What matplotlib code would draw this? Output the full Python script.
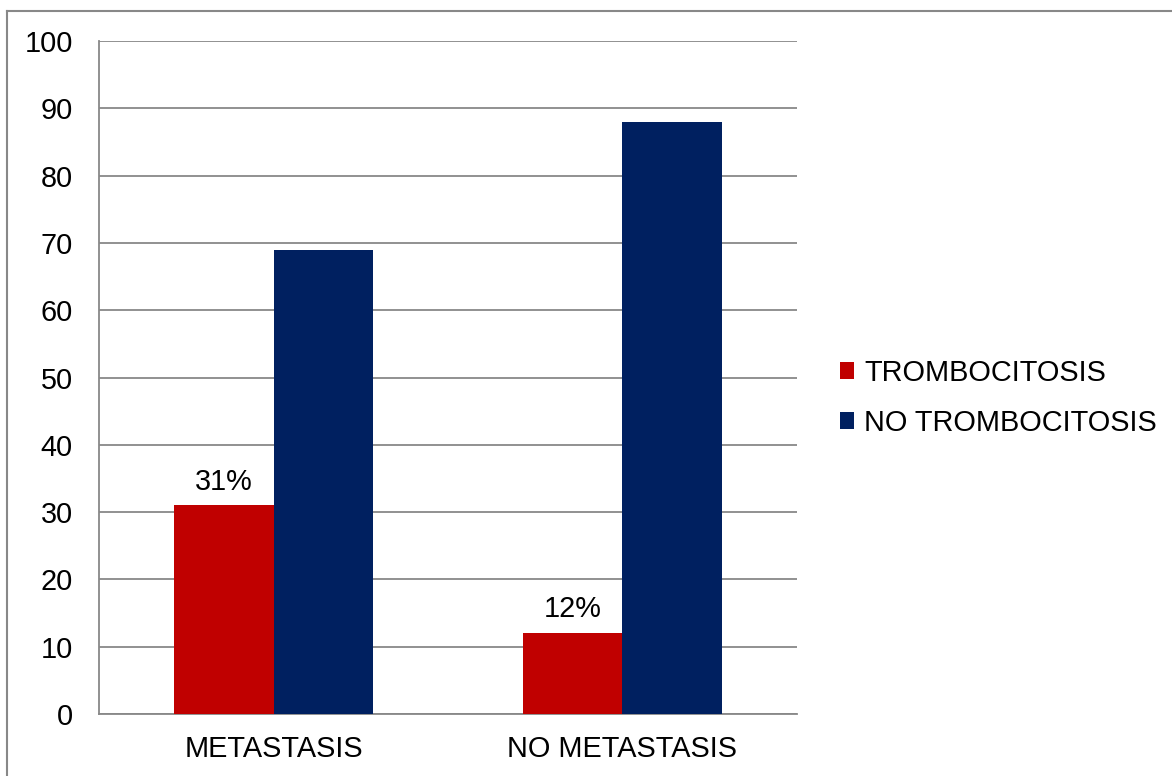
import matplotlib.pyplot as plt
from matplotlib.lines import Line2D
import numpy as np

grupos = ['METASTASIS', 'NO METASTASIS']
series = ['TROMBOCITOSIS', 'NO TROMBOCITOSIS']
trombocitosis = [31, 12]
no_trombocitosis = [69, 88]
etiquetas = ['31%', '12%']
colores = ['#C00000', '#002060']

plt.rcParams['font.family'] = ['Liberation Sans', 'DejaVu Sans']
tam = 20.8

fig = plt.figure(figsize=(11.72, 7.76), dpi=100)
ax = fig.add_axes([0.0845, 0.080, 0.5955, 0.867])

x = np.arange(len(grupos))
ancho = 0.286
b1 = ax.bar(x - ancho / 2, trombocitosis, ancho, color=colores[0], label=series[0], zorder=3)
b2 = ax.bar(x + ancho / 2, no_trombocitosis, ancho, color=colores[1], label=series[1], zorder=3)

for barra, txt in zip(b1, etiquetas):
    ax.annotate(txt, (barra.get_x() + barra.get_width() / 2, barra.get_height()),
                xytext=(0, 7), textcoords='offset points', ha='center', va='bottom', fontsize=tam)

ax.set_xlim(-0.5, 1.5)
ax.set_ylim(0, 100)
ax.set_yticks(range(0, 101, 10))
ax.set_xticks(x)
ax.set_xticklabels(grupos)
ax.tick_params(axis='both', length=0, labelsize=tam)
ax.tick_params(axis='x', pad=15)
ax.tick_params(axis='y', pad=19)
ax.grid(axis='y', color='#888888', linewidth=1.3, zorder=0)

for lado in ['top', 'right']:
    ax.spines[lado].set_visible(False)
for lado in ['left', 'bottom']:
    ax.spines[lado].set_color('#888888')
    ax.spines[lado].set_linewidth(1.3)

ax.legend(loc='center left', bbox_to_anchor=(1.045, 0.47), frameon=False, fontsize=tam,
          handlelength=0.5, handleheight=0.5, handletextpad=0.35, labelspacing=0.75,
          borderaxespad=0)

# marco exterior del grafico
fig.add_artist(Line2D([0.006, 0.006], [0, 0.986], color='#888888', linewidth=1.5))
fig.add_artist(Line2D([0.006, 1], [0.986, 0.986], color='#888888', linewidth=1.5))

fig.savefig('out.png', dpi=100)
